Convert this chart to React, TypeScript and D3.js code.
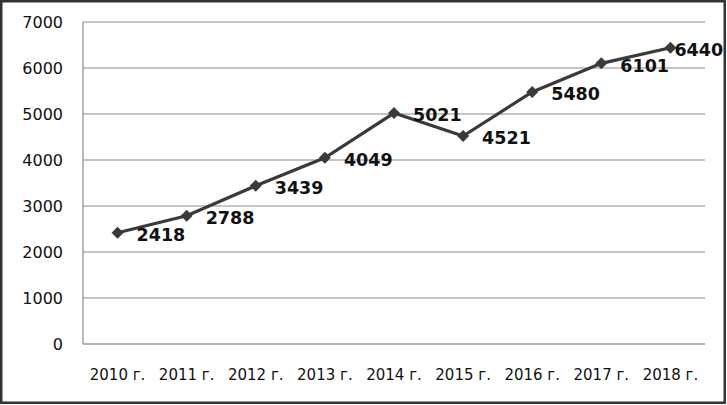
import React, { useRef, useEffect } from "react";
import * as d3 from "d3";

const years = ["2010 г.", "2011 г.", "2012 г.", "2013 г.", "2014 г.", "2015 г.", "2016 г.", "2017 г.", "2018 г."];
const values = [2418, 2788, 3439, 4049, 5021, 4521, 5480, 6101, 6440];
const yTicks = [0, 1000, 2000, 3000, 4000, 5000, 6000, 7000];

export default function App() {
  const ref = useRef<SVGSVGElement>(null);

  useEffect(() => {
    const W = 727;
    const H = 405;
    const left = 83;
    const right = 705;
    const top = 22;
    const bottom = 344;

    const svg = d3.select(ref.current);
    svg.selectAll("*").remove();

    svg.append("rect").attr("width", W).attr("height", H).attr("fill", "#fff");

    const x = d3.scaleBand().domain(years).range([left, right]);
    const y = d3.scaleLinear().domain([0, 7000]).range([bottom, top]);

    // gridlines
    svg
      .append("g")
      .selectAll("line")
      .data(yTicks)
      .enter()
      .append("line")
      .attr("x1", left)
      .attr("x2", right)
      .attr("y1", (d) => y(d))
      .attr("y2", (d) => y(d))
      .attr("stroke", (d) => (d === 0 ? "#6a6a6a" : "#8c8c8c"))
      .attr("stroke-width", 1.2);

    svg
      .append("line")
      .attr("x1", left)
      .attr("x2", left)
      .attr("y1", top)
      .attr("y2", bottom)
      .attr("stroke", "#8c8c8c")
      .attr("stroke-width", 1.2);

    // y tick labels
    svg
      .append("g")
      .selectAll("text")
      .data(yTicks)
      .enter()
      .append("text")
      .attr("x", 63)
      .attr("y", (d) => y(d))
      .attr("dy", "0.36em")
      .attr("text-anchor", "end")
      .attr("font-family", "DejaVu Sans")
      .attr("font-size", 16)
      .attr("fill", "#111")
      .text((d) => d);

    // x tick labels
    svg
      .append("g")
      .selectAll("text")
      .data(years)
      .enter()
      .append("text")
      .attr("x", (d) => x(d)! + x.bandwidth() / 2)
      .attr("y", 380)
      .attr("text-anchor", "middle")
      .attr("font-family", "DejaVu Sans")
      .attr("font-size", 15)
      .attr("fill", "#111")
      .text((d) => d);

    const cx = (i: number) => x(years[i])! + x.bandwidth() / 2;

    const line = d3
      .line<number>()
      .x((d, i) => cx(i))
      .y((d) => y(d));

    svg
      .append("path")
      .datum(values)
      .attr("d", line)
      .attr("fill", "none")
      .attr("stroke", "#3a3a3a")
      .attr("stroke-width", 3.2);

    // diamond markers (rotated squares)
    svg
      .append("g")
      .selectAll("path")
      .data(values)
      .enter()
      .append("path")
      .attr("d", d3.symbol().type(d3.symbolSquare).size(72))
      .attr("transform", (d, i) => `translate(${cx(i)},${y(d)}) rotate(45)`)
      .attr("fill", "#3a3a3a");

    // data labels
    svg
      .append("g")
      .selectAll("text")
      .data(values)
      .enter()
      .append("text")
      .attr("x", (d, i) => cx(i) + (i === values.length - 1 ? 4 : 19))
      .attr("y", (d) => y(d) + 2)
      .attr("dy", "0.36em")
      .attr("font-family", "DejaVu Sans")
      .attr("font-weight", "bold")
      .attr("font-size", 17.5)
      .attr("fill", "#111")
      .text((d) => d);

    // outer frame
    svg
      .append("rect")
      .attr("x", 1.25)
      .attr("y", 1.25)
      .attr("width", 723.5)
      .attr("height", 401.5)
      .attr("fill", "none")
      .attr("stroke", "#333")
      .attr("stroke-width", 2.5);
  }, []);

  return (
    <svg
      ref={ref}
      width={727}
      height={405}
      style={{ position: "absolute", left: 0, top: 0, display: "block" }}
    />
  );
}
